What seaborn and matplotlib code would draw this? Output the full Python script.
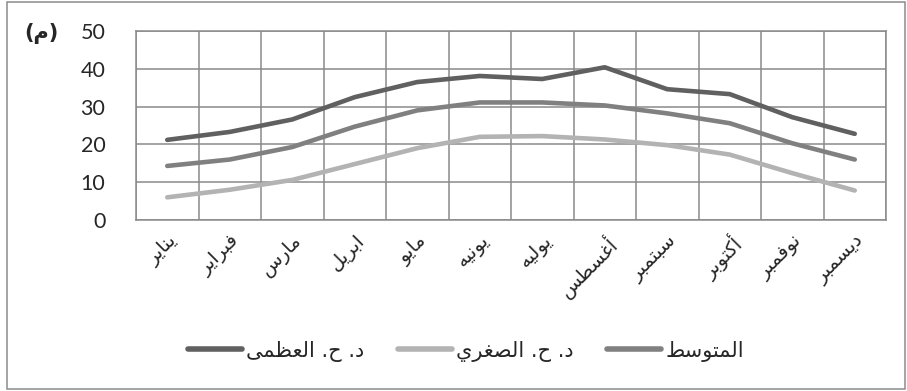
import numpy as np
import pandas as pd
import matplotlib
matplotlib.use("Agg")
import matplotlib.pyplot as plt
import matplotlib.transforms as mtransforms
from matplotlib.patches import Rectangle
from matplotlib.ticker import FixedLocator
import seaborn as sns

# ---------------- data ----------------
months = ["يناير", "فبراير", "مارس", "ابريل", "مايو", "يونيه",
          "يوليه", "أغسطس", "سبتمبر", "أكتوبر", "نوفمبر", "ديسمبر"]
t_max = [21.2, 23.3, 26.6, 32.5, 36.5, 38.1, 37.3, 40.4, 34.6, 33.3, 27.2, 22.8]
t_min = [6.0, 8.0, 10.6, 14.8, 19.0, 22.0, 22.2, 21.3, 19.8, 17.3, 12.4, 7.8]
t_mean = [14.3, 16.0, 19.3, 24.7, 29.0, 31.1, 31.1, 30.3, 28.2, 25.6, 20.3, 16.0]
series_names = ["د. ح. العظمى", "د. ح. الصغري", "المتوسط"]
unit_label = "(م)"
y_ticks = [0, 10, 20, 30, 40, 50]

# ---------------- Arabic shaping (matplotlib has no RTL/shaping) ----------------
FORMS = {
    '\u0627': ('\uFE8D', '\uFE8E', None, None),
    '\u0623': ('\uFE83', '\uFE84', None, None),
    '\u0628': ('\uFE8F', '\uFE90', '\uFE91', '\uFE92'),
    '\u062A': ('\uFE95', '\uFE96', '\uFE97', '\uFE98'),
    '\u062D': ('\uFEA1', '\uFEA2', '\uFEA3', '\uFEA4'),
    '\u062F': ('\uFEA9', '\uFEAA', None, None),
    '\u0631': ('\uFEAD', '\uFEAE', None, None),
    '\u0633': ('\uFEB1', '\uFEB2', '\uFEB3', '\uFEB4'),
    '\u0635': ('\uFEB9', '\uFEBA', '\uFEBB', '\uFEBC'),
    '\u0637': ('\uFEC1', '\uFEC2', '\uFEC3', '\uFEC4'),
    '\u0638': ('\uFEC5', '\uFEC6', '\uFEC7', '\uFEC8'),
    '\u0639': ('\uFEC9', '\uFECA', '\uFECB', '\uFECC'),
    '\u063A': ('\uFECD', '\uFECE', '\uFECF', '\uFED0'),
    '\u0641': ('\uFED1', '\uFED2', '\uFED3', '\uFED4'),
    '\u0643': ('\uFED9', '\uFEDA', '\uFEDB', '\uFEDC'),
    '\u0644': ('\uFEDD', '\uFEDE', '\uFEDF', '\uFEE0'),
    '\u0645': ('\uFEE1', '\uFEE2', '\uFEE3', '\uFEE4'),
    '\u0646': ('\uFEE5', '\uFEE6', '\uFEE7', '\uFEE8'),
    '\u0647': ('\uFEE9', '\uFEEA', '\uFEEB', '\uFEEC'),
    '\u0648': ('\uFEED', '\uFEEE', None, None),
    '\u0649': ('\uFEEF', '\uFEF0', None, None),
    '\u064A': ('\uFEF1', '\uFEF2', '\uFEF3', '\uFEF4'),
}


def shape_ar(text):
    chars = list(text)
    n = len(chars)
    out = []
    for i, c in enumerate(chars):
        if c not in FORMS:
            out.append(c)
            continue
        iso, fin, ini, med = FORMS[c]
        prev = chars[i - 1] if i > 0 else None
        nxt = chars[i + 1] if i < n - 1 else None
        join_prev = prev in FORMS and FORMS[prev][2] is not None
        join_next = nxt in FORMS and ini is not None
        if join_prev and join_next:
            out.append(med)
        elif join_prev:
            out.append(fin)
        elif join_next:
            out.append(ini)
        else:
            out.append(iso)
    vis = ''.join(out)[::-1]
    return vis.translate(str.maketrans('()', ')('))


# ---------------- figure ----------------
sns.set_style("white")
plt.rcParams['font.family'] = ['Lato', 'DejaVu Sans']

W, H = 907, 391
fig = plt.figure(figsize=(W / 100, H / 100), dpi=100)
ax = fig.add_axes([136 / W, 1 - 220 / H, (886 - 136) / W, (220 - 31) / H])

df = pd.DataFrame({
    "pos": list(range(len(months))) * 3,
    "value": t_max + t_min + t_mean,
    "series": [series_names[0]] * 12 + [series_names[1]] * 12 + [series_names[2]] * 12,
})
palette = {series_names[0]: "#606060", series_names[1]: "#b3b3b3", series_names[2]: "#808080"}

sns.lineplot(data=df, x="pos", y="value", hue="series", hue_order=series_names,
             palette=palette, linewidth=3.3, ax=ax, legend=True,
             solid_capstyle="round")

grid_c = "#8a8a8a"
ax.set_xlim(-0.5, len(months) - 0.5)
ax.set_ylim(0, 50)
ax.set_yticks(y_ticks)
ax.set_xticks(range(len(months)))
ax.xaxis.set_minor_locator(FixedLocator(np.arange(-0.5, len(months), 1.0)))
ax.set_xticklabels([shape_ar(m) for m in months], rotation=45, ha='right',
                   va='top', rotation_mode='anchor', fontsize=14,
                   family='DejaVu Sans')
offset = mtransforms.ScaledTranslation(13 / 100, -1 / 100, fig.dpi_scale_trans)
for lab in ax.get_xticklabels():
    lab.set_transform(lab.get_transform() + offset)
ax.tick_params(axis='x', which='major', length=0, pad=8)
ax.tick_params(axis='x', which='minor', length=7, color=grid_c, width=1.1, direction='out')
ax.tick_params(axis='y', length=8, color=grid_c, width=1.1, labelsize=15.5, pad=14,
               direction='out')
ax.grid(True, axis='y', which='major', color=grid_c, linewidth=1.1)
ax.grid(True, axis='x', which='minor', color=grid_c, linewidth=1.1)
ax.grid(False, axis='x', which='major')
for s in ax.spines.values():
    s.set_color(grid_c)
    s.set_linewidth(1.1)
ax.set_xlabel("")
ax.set_ylabel("")
for lab in ax.get_yticklabels():
    lab.set_fontfamily(['Lato', 'DejaVu Sans'])

# legend
handles, labels = ax.get_legend_handles_labels()
for h in handles:
    h.set_linewidth(4.0)
    h.set_solid_capstyle('round')
ax.legend(handles, [shape_ar(l) for l in labels], ncol=3, frameon=False,
          loc='center', bbox_to_anchor=(466 / W, 1 - 351 / H),
          bbox_transform=fig.transFigure, prop={'family': 'DejaVu Sans', 'size': 15},
          handlelength=2.6, handletextpad=0.2, columnspacing=1.6)

# unit label
fig.text(41 / W, 1 - 33 / H, shape_ar(unit_label), ha='center', va='center',
         fontsize=15, fontweight='bold', family='DejaVu Sans')

# outer chart frame
fig.add_artist(Rectangle((7 / W, 2 / H), (905 - 7) / W, (389 - 2) / H,
                         transform=fig.transFigure, fill=False,
                         edgecolor='#8c8c8c', linewidth=1.1))

fig.savefig("out.png", dpi=100)
